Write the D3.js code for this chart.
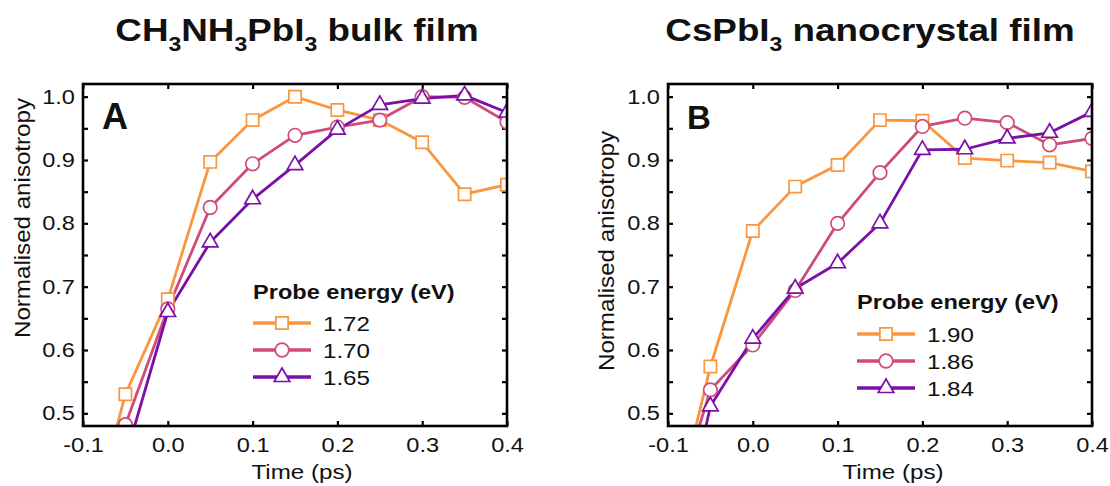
<!DOCTYPE html>
<html>
<head>
<meta charset="utf-8">
<script src="https://cdn.jsdelivr.net/npm/d3@7"></script>
<style>
  body { margin: 0; background: #fff; }
  text { font-family: "Liberation Sans", Arial, sans-serif; fill: #111; }
</style>
</head>
<body>
<div id="chart"></div>
<script>
// time points (ps)
var times = [-0.1, -0.05, 0, 0.05, 0.1, 0.15, 0.2, 0.25, 0.3, 0.35, 0.4];

// panel A: CH3NH3PbI3 bulk film
var a172 = [0.28, 0.53, 0.68, 0.897, 0.963, 1.0, 0.979, 0.963, 0.928, 0.846, 0.861];
var a170 = [0.30, 0.482, 0.665, 0.825, 0.894, 0.939, 0.952, 0.963, 1.0, 0.999, 0.96];
var a165 = [0.20, 0.43, 0.66, 0.77, 0.838, 0.892, 0.948, 0.987, 0.997, 1.002, 0.975];

// panel B: CsPbI3 nanocrystal film
var b190 = [0.297, 0.574, 0.788, 0.858, 0.892, 0.963, 0.962, 0.903, 0.899, 0.896, 0.882];
var b186 = [0.318, 0.537, 0.608, 0.694, 0.8, 0.88, 0.953, 0.966, 0.959, 0.924, 0.934];
var b184 = [0.21, 0.511, 0.618, 0.697, 0.737, 0.80, 0.916, 0.917, 0.934, 0.943, 0.976];

var labelsA = ["1.72", "1.70", "1.65"];
var labelsB = ["1.90", "1.86", "1.84"];
var xTicks = [-0.1, 0, 0.1, 0.2, 0.3, 0.4];
var yTicks = d3.range(0.5, 1.001, 0.05);

var colors = ["#F9963F", "#CF4B7B", "#7A10A8"];
var shapes = [d3.symbolSquare, d3.symbolCircle, d3.symbolTriangle];
var sizes = [150, 145, 105];
var SX = 1.15; // horizontal stretch of the text in the original

var W = 1110, H = 486;
var svg = d3.select("#chart").append("svg")
	.attr("width", W).attr("height", H);

function stext(g, x, y, str) {
	return g.append("text")
		.attr("transform", "translate(" + x + "," + y + ") scale(" + SX + ",1)")
		.text(str);
}

var panels = [
	{ id: "A", left: 83, series: [a172, a170, a165], labels: labelsA,
	  title: ["CH", "3", "NH", "3", "PbI", "3", " bulk film"], titleX: 297,
	  letterSize: 36, ylab: [22, 218], xlabX: 302,
	  leg: { x: 253, ty: 299, rows: [323, 350, 377] } },
	{ id: "B", left: 668, series: [b190, b186, b184], labels: labelsB,
	  title: ["CsPbI", "3", " nanocrystal film"], titleX: 870,
	  letterSize: 33, ylab: [606, 251], xlabX: 893,
	  leg: { x: 857, ty: 309, rows: [334, 361, 388] } }
];
var plotTop = 84, pw = 424, ph = 342;

panels.forEach(function(p, pi) {
	var g = svg.append("g").attr("transform", "translate(" + p.left + "," + plotTop + ")");
	var x = d3.scaleLinear().domain([-0.1, 0.4]).range([0, pw]);
	var y = d3.scaleLinear().domain([0.48, 1.02]).range([ph, 0]);

	g.append("clipPath").attr("id", "clip" + pi)
		.append("rect").attr("width", pw).attr("height", ph);

	// axes, ticks inward
	var fmtY = function(d) { return Math.round(d * 100) % 10 === 0 ? d.toFixed(1) : ""; };
	g.append("g").attr("transform", "translate(0," + ph + ")")
		.call(d3.axisBottom(x).tickValues(xTicks).tickSizeInner(-5).tickSizeOuter(0)
			.tickPadding(11).tickFormat(function(d) { return d.toFixed(1); }));
	g.append("g")
		.call(d3.axisTop(x).tickValues(xTicks).tickSizeInner(-5).tickSizeOuter(0).tickFormat(""));
	g.append("g")
		.call(d3.axisLeft(y).tickValues(yTicks).tickSizeInner(-5).tickSizeOuter(0)
			.tickPadding(7).tickFormat(fmtY));
	g.append("g").attr("transform", "translate(" + pw + ",0)")
		.call(d3.axisRight(y).tickValues(yTicks).tickSizeInner(-5).tickSizeOuter(0).tickFormat(""));
	g.selectAll(".domain").remove();
	g.selectAll(".tick line").attr("stroke", "#000").attr("stroke-width", 2.2);
	g.selectAll(".tick text")
		.attr("font-size", 20.5).attr("font-family", "Liberation Sans, Arial, sans-serif")
		.attr("fill", "#1a1a1a")
		.attr("transform", "scale(" + SX + ",1)");

	// data
	var plot = g.append("g").attr("clip-path", "url(#clip" + pi + ")");
	var line = d3.line().x(function(d, i) { return x(times[i]); }).y(function(d) { return y(d); });
	p.series.forEach(function(s, si) {
		plot.append("path").datum(s)
			.attr("d", line)
			.attr("fill", "none")
			.attr("stroke", colors[si])
			.attr("stroke-width", 2.8)
			.attr("stroke-linejoin", "round");
	});
	p.series.forEach(function(s, si) {
		plot.selectAll(".m" + si).data(s).join("path")
			.attr("class", "m" + si)
			.attr("transform", function(d, i) { return "translate(" + x(times[i]) + "," + y(d) + ")"; })
			.attr("d", d3.symbol().type(shapes[si]).size(sizes[si]))
			.attr("fill", "#fff")
			.attr("stroke", colors[si])
			.attr("stroke-width", 1.7);
	});

	// frame
	g.append("rect").attr("width", pw).attr("height", ph)
		.attr("fill", "none").attr("stroke", "#000").attr("stroke-width", 2.6);

	// panel letter
	g.append("text").attr("x", 19).attr("y", 45)
		.attr("font-size", p.letterSize).attr("font-weight", "bold")
		.attr("fill", "#000").text(p.id);

	// legend
	var lg = svg.append("g");
	stext(lg, p.leg.x, p.leg.ty, "Probe energy (eV)")
		.attr("font-size", 20.5).attr("font-weight", "bold").attr("fill", "#000");
	p.labels.forEach(function(lab, si) {
		var ry = p.leg.rows[si];
		lg.append("line")
			.attr("x1", p.leg.x).attr("x2", p.leg.x + 58)
			.attr("y1", ry).attr("y2", ry)
			.attr("stroke", colors[si]).attr("stroke-width", 3.5);
		lg.append("path")
			.attr("transform", "translate(" + (p.leg.x + 29) + "," + ry + ")")
			.attr("d", d3.symbol().type(shapes[si]).size(sizes[si]))
			.attr("fill", "#fff").attr("stroke", colors[si]).attr("stroke-width", 1.7);
		stext(lg, p.leg.x + 70, ry + 8, lab).attr("font-size", 21);
	});

	// axis titles
	stext(svg, p.xlabX, 479, "Time (ps)").attr("font-size", 21).attr("text-anchor", "middle");
	svg.append("text")
		.attr("transform", "translate(" + (p.ylab[0] + 8) + "," + p.ylab[1] + ") rotate(-90)")
		.attr("text-anchor", "middle")
		.attr("font-size", 22)
		.attr("textLength", 240).attr("lengthAdjust", "spacingAndGlyphs")
		.text("Normalised anisotropy");

	// chart title with subscripts
	var t = svg.append("text")
		.attr("transform", "translate(" + p.titleX + ",41) scale(" + SX + ",1)")
		.attr("text-anchor", "middle")
		.attr("font-size", 32).attr("font-weight", "bold").attr("fill", "#000");
	var down = false;
	p.title.forEach(function(part) {
		var isSub = /^\d$/.test(part);
		var ts = t.append("tspan").text(part);
		if (isSub) { ts.attr("font-size", 20).attr("dy", 10); down = true; }
		else if (down) { ts.attr("dy", -10); down = false; }
	});
});
</script>
</body>
</html>
